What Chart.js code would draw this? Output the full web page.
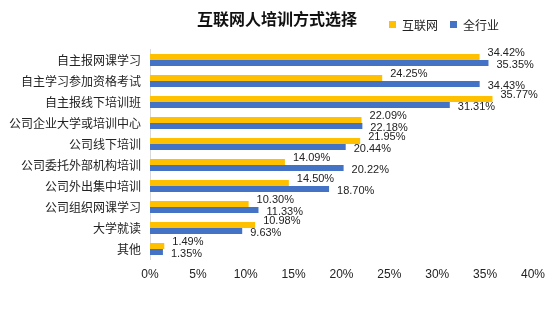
<!DOCTYPE html>
<html>
<head>
<meta charset="utf-8">
<script src="https://cdn.jsdelivr.net/npm/chart.js@4"></script>
<style>
  html, body { margin: 0; padding: 0; background: #fff; }
  #wrap { width: 554px; height: 323px; }
</style>
</head>
<body>
<div id="wrap"><canvas id="myChart" width="554" height="323"></canvas></div>
<script>
const chartTitle = '互联网人培训方式选择';
const categories = [
    '自主报网课学习', '自主学习参加资格考试', '自主报线下培训班', '公司企业大学或培训中心',
    '公司线下培训', '公司委托外部机构培训', '公司外出集中培训', '公司组织网课学习', '大学就读', '其他'
];
const seriesNames = ['互联网', '全行业'];
const internetValues = [34.42, 24.25, 35.77, 22.09, 21.95, 14.09, 14.50, 10.30, 10.98, 1.49];
const allIndustryValues = [35.35, 34.43, 31.31, 22.18, 20.44, 20.22, 18.70, 11.33, 9.63, 1.35];
const xTicks = [0, 5, 10, 15, 20, 25, 30, 35, 40];

const cjkFont = '"Noto Sans CJK SC", "Noto Sans", sans-serif';
const numFont = '"Liberation Sans", Arial, sans-serif';

// title, legend and value labels drawn by hand
const decorPlugin = {
    id: 'decor',
    afterDraw(chart) {
        const c = chart.ctx;
        c.save();
        c.fillStyle = '#111';
        c.font = 'bold 16px ' + cjkFont;
        c.textAlign = 'center';
        c.textBaseline = 'middle';
        c.fillText(chartTitle, 277, 19);

        c.font = '12px ' + cjkFont;
        c.textAlign = 'left';
        let lx = 389;
        chart.data.datasets.forEach(ds => {
            c.fillStyle = ds.backgroundColor;
            c.fillRect(lx, 21, 7, 7);
            c.fillStyle = '#222';
            c.fillText(ds.label, lx + 13, 25);
            lx += 61;
        });

        c.font = '11px ' + numFont;
        c.fillStyle = '#222';
        chart.data.datasets.forEach((ds, i) => {
            const meta = chart.getDatasetMeta(i);
            meta.data.forEach((bar, j) => {
                const txt = ds.data[j].toFixed(2) + '%';
                if (i === 0) {
                    c.fillText(txt, bar.x + 8, bar.y - 4);
                } else {
                    c.fillText(txt, bar.x + 8, bar.y + 2);
                }
            });
        });
        c.restore();
    }
};

const ctx = document.getElementById('myChart').getContext('2d');
const chart = new Chart(ctx, {
    type: 'bar',
    data: {
        labels: categories,
        datasets: [{
            label: seriesNames[0],
            data: internetValues,
            backgroundColor: '#FFC000',
            categoryPercentage: 0.57,
            barPercentage: 1.0
        }, {
            label: seriesNames[1],
            data: allIndustryValues,
            backgroundColor: '#4472C4',
            categoryPercentage: 0.57,
            barPercentage: 1.0
        }]
    },
    options: {
        indexAxis: 'y',
        responsive: false,
        animation: false,
        layout: { padding: { top: 49.5, right: 21, bottom: 23.5, left: 0 } },
        plugins: {
            legend: { display: false },
            title: { display: false },
            tooltip: { enabled: false }
        },
        scales: {
            x: {
                min: 0,
                max: 40,
                afterFit: s => { s.height = 40; },
                afterBuildTicks: s => { s.ticks = xTicks.map(v => ({ value: v })); },
                grid: { display: false, drawTicks: false },
                border: { display: false },
                ticks: {
                    padding: 8,
                    color: '#222',
                    font: { family: numFont, size: 12 },
                    callback: v => v + '%'
                }
            },
            y: {
                afterFit: s => { s.width = 150; },
                grid: { display: false, drawTicks: false },
                border: { display: true, color: '#d9d9d9', width: 1 },
                ticks: {
                    padding: 9,
                    color: '#222',
                    font: { family: cjkFont, size: 12 }
                }
            }
        }
    },
    plugins: [decorPlugin]
});
</script>
</body>
</html>
